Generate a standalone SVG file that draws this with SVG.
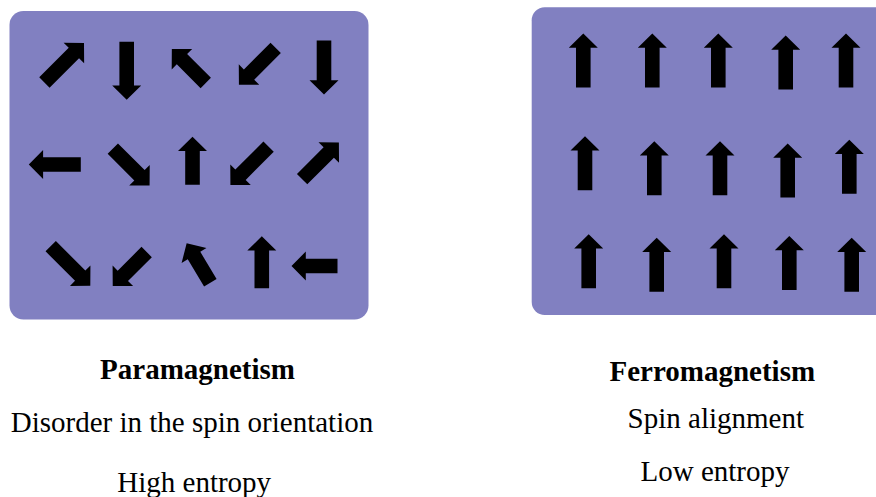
<svg xmlns="http://www.w3.org/2000/svg" xmlns:xlink="http://www.w3.org/1999/xlink" width="876" height="497" viewBox="0 0 876 497">
<style>
.panel{fill:#8180c1}
.ar{fill:#000}
.t{font-family:"Liberation Serif","Times New Roman",serif;font-size:29px;fill:#000;text-anchor:middle}
.b{font-weight:bold}
</style>
<defs>
<path id="a58" d="M0,-29L14.5,-14.7L7.3,-14.7L7.3,29L-7.3,29L-7.3,-14.7L-14.5,-14.7Z"/>
<path id="a56" d="M0,-28L14.5,-13.7L7.3,-13.7L7.3,28L-7.3,28L-7.3,-13.7L-14.5,-13.7Z"/>
<path id="a54" d="M0,-27L14.5,-12.7L7.3,-12.7L7.3,27L-7.3,27L-7.3,-12.7L-14.5,-12.7Z"/>
<path id="a52" d="M0,-26L14.5,-11.7L7.3,-11.7L7.3,26L-7.3,26L-7.3,-11.7L-14.5,-11.7Z"/>
<path id="a48" d="M0,-24L14.5,-9.7L7.3,-9.7L7.3,24L-7.3,24L-7.3,-9.7L-14.5,-9.7Z"/>
<path id="a46" d="M0,-23L14.5,-8.7L7.3,-8.7L7.3,23L-7.3,23L-7.3,-8.7L-14.5,-8.7Z"/>
</defs>
<g id="para">
<rect class="panel" x="9.5" y="11" width="359" height="308.5" rx="14"/>
<g class="ar">
<use href="#a56" transform="translate(64.2,62.7) rotate(45)"/>
<use href="#a58" transform="translate(126.7,70.8) rotate(180)"/>
<use href="#a48" transform="translate(188.8,66) rotate(-45)"/>
<use href="#a52" transform="translate(257.3,66.3) rotate(225)"/>
<use href="#a54" transform="translate(324,67.5) rotate(180)"/>
<use href="#a52" transform="translate(54.8,164.5) rotate(270)"/>
<use href="#a52" transform="translate(131.2,167) rotate(135)"/>
<use href="#a48" transform="translate(192.5,160.8)"/>
<use href="#a54" transform="translate(249.5,165.8) rotate(225)"/>
<use href="#a52" transform="translate(320.5,160.8) rotate(45)"/>
<use href="#a56" transform="translate(70.5,266) rotate(135)"/>
<use href="#a48" transform="translate(129.7,269) rotate(225)"/>
<use href="#a46" transform="translate(198.5,263) rotate(-31)"/>
<use href="#a52" transform="translate(261.8,262.2)"/>
<use href="#a46" transform="translate(314.5,266) rotate(270)"/>
</g>
<text class="t b" x="197.5" y="379">Paramagnetism</text>
<text class="t" x="192" y="431.5">Disorder in the spin orientation</text>
<text class="t" x="194.2" y="491.5">High entropy</text>
</g>
<g id="ferro">
<rect class="panel" x="531.7" y="7.3" width="362" height="307.7" rx="13"/>
<g class="ar">
<use href="#a54" x="583.3" y="60.5"/>
<use href="#a54" x="652.3" y="60.5"/>
<use href="#a54" x="718.3" y="60.5"/>
<use href="#a54" x="785.7" y="62.5"/>
<use href="#a54" x="846" y="60.5"/>
<use href="#a54" x="585" y="163.2"/>
<use href="#a54" x="654.3" y="168.3"/>
<use href="#a54" x="720" y="168.3"/>
<use href="#a54" x="787.7" y="170.5"/>
<use href="#a54" x="849.3" y="166.7"/>
<use href="#a54" x="588.7" y="261.3"/>
<use href="#a54" x="656.7" y="264.7"/>
<use href="#a54" x="724" y="261.3"/>
<use href="#a54" x="789.3" y="263"/>
<use href="#a54" x="851.7" y="264.7"/>
</g>
<text class="t b" x="712.3" y="381">Ferromagnetism</text>
<text class="t" x="715.8" y="428">Spin alignment</text>
<text class="t" x="715" y="481">Low entropy</text>
</g>
<g id="connectors"/>
</svg>
